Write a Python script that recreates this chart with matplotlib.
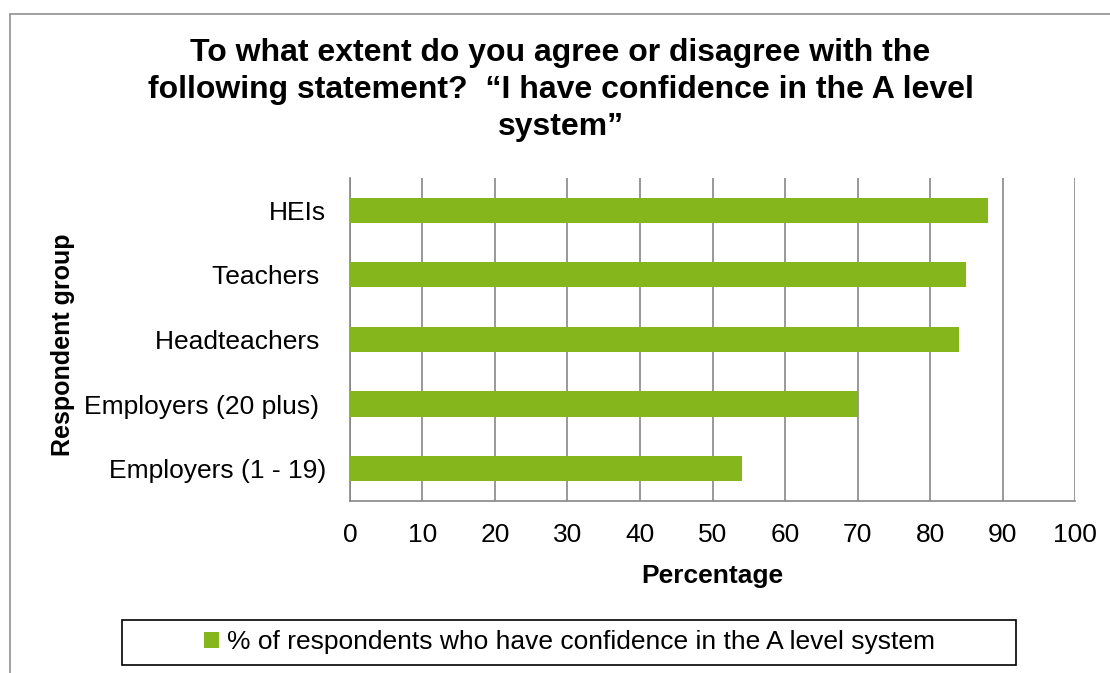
"""
Horizontal bar chart: confidence in the A level system by respondent group.
"""
import matplotlib
matplotlib.use("Agg")
import matplotlib.pyplot as plt
from matplotlib.patches import Rectangle

plt.rcParams['font.family'] = ['Liberation Sans', 'DejaVu Sans']

groups = ["Employers (1 - 19)", "Employers (20 plus) ", "Headteachers ", "Teachers ", "HEIs"]
values = [54, 70, 84, 85, 88]
series_name = "% of respondents who have confidence in the A level system"
title = ("To what extent do you agree or disagree with the\n"
         "following statement?  \u201cI have confidence in the A level\n"
         "system\u201d")
x_ticks = list(range(0, 101, 10))

GREEN = '#85B71C'
GRID = '#878787'
W, H = 1110, 673

fig = plt.figure(figsize=(11.1, 6.73), dpi=100)
ax = fig.add_axes([0.3153, 0.2556, 0.6532, 0.48])

ax.barh(range(len(groups)), values, height=0.39, color=GREEN, label=series_name, zorder=3)

ax.set_xlim(0, 100)
ax.set_ylim(-0.5, len(groups) - 0.5)
ax.set_xticks(x_ticks)
ax.set_yticks(range(len(groups)))
ax.set_yticklabels(groups)
ax.tick_params(axis='y', length=0, pad=17, labelsize=19)
ax.tick_params(axis='x', length=0, pad=16, labelsize=19)
ax.xaxis.grid(True, color=GRID, linewidth=1.2, zorder=0)
for side in ['top', 'right']:
    ax.spines[side].set_visible(False)
for side in ['left', 'bottom']:
    ax.spines[side].set_color(GRID)
    ax.spines[side].set_linewidth(1.2)

ax.set_xlabel("Percentage", fontsize=19, fontweight='bold', labelpad=12)
fig.text(0.057, 0.487, "Respondent group", rotation=90, fontsize=18,
         fontweight='bold', ha='center', va='center')

fig.text(0.505, 1 - 90 / H, title, ha='center', va='center', fontsize=23,
         fontweight='bold', linespacing=1.32)

# legend content without frame, framed by a wider box like the original
leg = fig.legend(loc='center', bbox_to_anchor=(0.513, 1 - 642 / H), ncol=1,
                 fontsize=19, frameon=False,
                 handlelength=0.55, handleheight=0.55, handletextpad=0.3)
fig.patches.append(Rectangle((122 / W, 1 - 665 / H), (1016 - 122) / W, 45 / H,
                             transform=fig.transFigure, fill=False,
                             edgecolor='black', linewidth=1.2))

# outer chart border (cropped at right and bottom)
fig.patches.append(Rectangle((10 / W, -0.1), 1.2, 0.1 + (H - 14) / H,
                             transform=fig.transFigure, fill=False,
                             edgecolor='#9a9a9a', linewidth=1.3))

fig.savefig("out.png", dpi=100)
